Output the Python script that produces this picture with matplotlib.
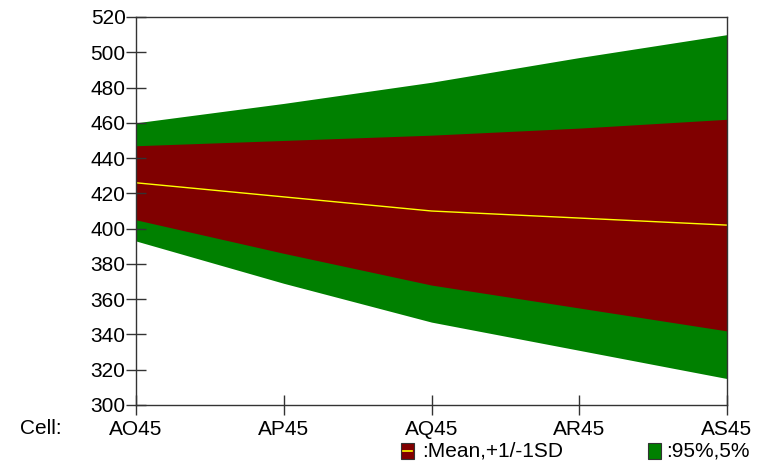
import matplotlib.pyplot as plt
from matplotlib.patches import Rectangle

plt.rcParams['font.family'] = ['Liberation Sans', 'DejaVu Sans']

cells = ['AO45', 'AP45', 'AQ45', 'AR45', 'AS45']
p95 = [460, 471, 483, 497, 510]
sd_hi = [447, 450, 453, 457, 462]
mean = [426, 418, 410, 406, 402]
sd_lo = [405, 386, 368, 355, 342]
p5 = [393, 369, 347, 331, 315]

green = '#008000'
red = '#800000'

fig = plt.figure(figsize=(7.73, 4.63), dpi=100)
ax = fig.add_axes([136/773, 1 - 405/463, (727-136)/773, (405-17)/463])

x = list(range(len(cells)))
ax.fill_between(x, p5, p95, color=green, lw=0)
ax.fill_between(x, sd_lo, sd_hi, color=red, lw=0)
ax.plot(x, mean, color='#ffff00', lw=1)

ax.set_xlim(0, len(cells) - 1)
ax.set_ylim(300, 520)
ax.set_yticks(range(300, 521, 20))
ax.set_xticks(x)
ax.set_xticklabels(cells)
for s in ax.spines.values():
    s.set_color('#333333')
    s.set_linewidth(1)
ax.tick_params(direction='inout', length=15, width=1, color='#333333', labelsize=15, pad=0)
ax.tick_params(axis='x', pad=3)

fig.text(20/773, 1 - 428/463, 'Cell:', fontsize=15, va='center', ha='left')

# legend
fig.patches.append(Rectangle((401/773, 1 - 459/463), 13/773, 16/463, transform=fig.transFigure,
                             facecolor=red, edgecolor='#333333', lw=0.8))
fig.add_artist(plt.Line2D([403/773, 412/773], [1 - 451/463, 1 - 451/463], color='#ffff00', lw=1.2))
fig.text(422/773, 1 - 451/463, ':Mean,+1/-1SD', fontsize=15, va='center', ha='left')
fig.patches.append(Rectangle((648/773, 1 - 459/463), 13/773, 16/463, transform=fig.transFigure,
                             facecolor=green, edgecolor='#333333', lw=0.8))
fig.text(666/773, 1 - 451/463, ':95%,5%', fontsize=15, va='center', ha='left')

fig.savefig('out.png', dpi=100)
